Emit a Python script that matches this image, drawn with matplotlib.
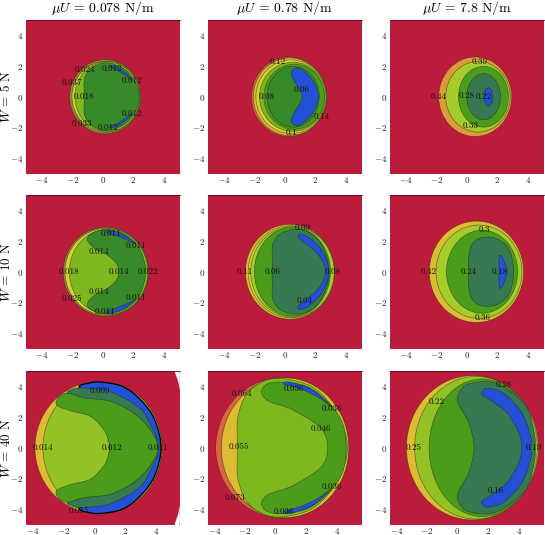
import numpy as np
import matplotlib
matplotlib.use('Agg')
import matplotlib.pyplot as plt
from matplotlib.patches import Ellipse, PathPatch
from matplotlib.path import Path

plt.rcParams['mathtext.fontset'] = 'cm'
plt.rcParams['font.family'] = ['cmr10', 'DejaVu Serif']

RED = '#BC1C3C'
BROWN = '#8F8A35'
CORAL = '#DC6440'
ORANGE = '#DF9A3C'
MUSTARD = '#DDBB33'
YELLOW = '#D9D038'
YGREEN = '#A4CC2A'
MGREEN = '#93C225'
LIME = '#7DB81F'
GREEN = '#4C9C1C'
DGREEN = '#38892A'
TEAL = '#36784F'
BLUE = '#2450D8'
EDGE = (0.1, 0.15, 0.1, 0.55)

row_titles = ['$W$ = 5 N', '$W$ = 10 N', '$W$ = 40 N']
col_titles = [r'$\mu U$ = 0.078 N/m', r'$\mu U$ = 0.78 N/m', r'$\mu U$ = 7.8 N/m']
ticks = [-4, -2, 0, 2, 4]
xlims = [(-5, 5)] * 6 + [(-4.45, 5.5), (-4.4, 5.6), (-4.4, 5.6)]

# regions: ellipse = cx, cy, rx, ry; kidney = upper half of outline (mirrored);
# pair = one crescent above the axis and its mirror image; rimmed = kidney with heavy outline
a_layers = [
    ('ellipse', BROWN, (0.16, 0, 2.32, 2.42)),
    ('ellipse', YELLOW, (0.2, 0, 2.2, 2.3)),
    ('ellipse', LIME, (0.3, 0, 2.12, 2.28)),
    ('kidney', DGREEN, [(-1.2, 0), (-1.2, 1.1), (-0.9, 1.7), (-0.3, 2.1), (0.4, 2.2),
                        (1.4, 1.8), (2.1, 1.0), (2.38, 0)]),
    ('pair', BLUE, [(0.5, 2.02), (1.0, 1.9), (1.6, 1.45), (1.9, 1.05), (1.5, 1.38),
                    (1.0, 1.72), (0.5, 1.92)]),
]
a_labels = [(-1.14, 1.76, '0.024'), (-2, 0.9, '0.037'), (-1.23, 0, '0.018'), (0.6, 1.8, '0.012'),
            (1.87, 1.05, '0.012'), (1.87, -1.1, '0.012'), (0.35, -2.02, '0.012'), (-1.38, -1.75, '0.033')]

b_layers = [
    ('ellipse', CORAL, (0.27, 0, 2.45, 2.59)),
    ('ellipse', MUSTARD, (0.33, 0, 2.38, 2.53)),
    ('ellipse', YELLOW, (0.42, 0, 2.3, 2.4)),
    ('ellipse', LIME, (0.52, 0, 2.17, 2.25)),
    ('ellipse', GREEN, (0.62, 0, 1.98, 2.12)),
    ('ellipse', DGREEN, (0.55, 0, 1.7, 1.98)),
    ('kidney', BLUE, [(1.13, 0), (0.95, 0.5), (0.6, 1.05), (0.42, 1.5), (0.55, 1.8), (0.9, 1.87),
                      (1.4, 1.55), (1.9, 0.95), (2.2, 0)]),
]
b_labels = [(-0.46, 2.3, '0.12'), (-1.15, 0, '0.08'), (1.07, 0.43, '0.06'), (2.39, -1.33, '0.14'),
            (0.46, -2.35, '0.1')]

c_layers = [
    ('ellipse', ORANGE, (0.55, 0, 2.38, 2.59)),
    ('ellipse', YGREEN, (0.73, 0, 2.1, 2.3)),
    ('ellipse', GREEN, (1.09, 0, 1.63, 1.98)),
    ('ellipse', TEAL, (1.1, 0, 1.1, 1.5)),
    ('ellipse', BLUE, (1.41, 0, 0.28, 0.59)),
]
c_labels = [(0.83, 2.3, '0.39'), (-1.85, 0, '0.44'), (0, 0.09, '0.28'), (1.09, 0, '0.22'), (0.28, -1.87, '0.33')]

d_layers = [
    ('ellipse', BROWN, (0.2, 0, 2.78, 2.9)),
    ('ellipse', YELLOW, (0.22, 0, 2.68, 2.82)),
    ('ellipse', LIME, (0.38, 0, 2.56, 2.78)),
    ('kidney', DGREEN, [(1.05, 0), (0.85, 0.6), (0.2, 1.15), (-0.5, 1.5), (-1, 2.05), (-0.8, 2.45),
                        (-0.2, 2.68), (0.5, 2.72), (1.5, 2.4), (2.4, 1.5), (2.8, 0)]),
    ('pair', BLUE, [(0.3, 2.68), (1.0, 2.55), (1.6, 2.25), (2.1, 1.85), (1.5, 2.1), (0.9, 2.35), (0.3, 2.55)]),
]
d_labels = [(0.56, 2.45, '0.011'), (2.15, 1.7, '0.011'), (-0.26, 1.33, '0.014'), (-2.2, 0, '0.018'),
            (1.07, 0, '0.014'), (2.92, 0, '0.022'), (-0.26, -1.31, '0.014'), (2.15, -1.72, '0.011'),
            (-2.02, -1.78, '0.025'), (0.13, -2.64, '0.011')]

e_layers = [
    ('ellipse', MUSTARD, (0.34, 0, 2.9, 3.09)),
    ('ellipse', YELLOW, (0.4, 0, 2.78, 3.0)),
    ('ellipse', YGREEN, (0.5, 0, 2.72, 2.95)),
    ('ellipse', GREEN, (0.5, 0, 2.48, 2.9)),
    ('kidney', TEAL, [(-0.83, 0), (-0.8, 0.8), (-0.8, 1.7), (-0.5, 2.3), (0.1, 2.65), (1, 2.75),
                      (2, 2.3), (2.7, 1.1), (2.9, 0)]),
    ('kidney', BLUE, [(2.65, 0), (2.4, 0.8), (1.9, 1.4), (1.2, 1.95), (0.85, 2.3), (1.0, 2.45),
                      (1.6, 2.2), (2.3, 1.55), (2.75, 0.7), (2.85, 0)]),
]
e_labels = [(1.17, 2.87, '0.09'), (-2.6, 0, '0.11'), (-0.76, 0, '0.06'), (3.09, 0, '0.08'), (1.28, -1.91, '0.04')]

f_layers = [
    ('ellipse', MUSTARD, (0.63, 0, 3.07, 3.3)),
    ('ellipse', YGREEN, (0.8, 0, 2.8, 3.04)),
    ('ellipse', GREEN, (1.0, 0, 2.32, 2.7)),
    ('kidney', TEAL, [(0.13, 0), (0.13, 1.0), (0.35, 1.8), (0.9, 2.2), (1.8, 2.2), (2.6, 1.7),
                      (2.95, 0.9), (3.04, 0)]),
    ('kidney', BLUE, [(2.1, 0), (2.1, 0.7), (2.15, 1.05), (2.3, 1.0), (2.55, 0.4), (2.62, 0)]),
]
f_labels = [(1.15, 2.74, '0.3'), (-2.5, 0, '0.42'), (0.11, 0, '0.24'), (2.13, 0, '0.18'), (1.04, -3, '0.36')]

g_layers = [
    ('pair', 'white', [(5.2, 5.0), (5.5, 5.0), (5.5, 3.8), (5.42, 4.3)]),
    ('ellipse', MUSTARD, (0.24, 0, 4.11, 4.3)),
    ('ellipse', MGREEN, (0.5, 0, 3.85, 4.27)),
    ('rimmed', BLUE, [(1, 0), (0, 3), (-0.7, 3.7), (-1.0, 4.0), (-0.6, 4.17), (0.3, 4.28), (1.8, 4.0),
                      (3, 3.1), (3.9, 1.8), (4.3, 0)]),
    ('kidney', TEAL, [(1, 0), (0, 2.6), (-1.2, 3.2), (-1.75, 3.55), (-1.7, 3.7), (-1.05, 3.9), (0.3, 3.8),
                      (1.24, 3.56), (3, 2.5), (3.96, 0.75), (4.17, 0)]),
    ('kidney', GREEN, [(0.98, 0), (0.85, 0.6), (0.59, 1.19), (-0.28, 2.05), (-1.48, 2.38), (-2.35, 2.7),
                       (-2.5, 3.0), (-2.2, 3.4), (-1.7, 3.55), (-0.7, 3.25), (1, 3.03), (2.54, 2.25),
                       (3.6, 1.17), (4.1, 0)]),
]
g_labels = [(0.37, 3.74, '0.009'), (-3.33, 0, '0.014'), (1.09, 0, '0.012'), (4.11, 0, '0.011'), (-1, -4.13, '0.015')]

h_layers = [
    ('ellipse', CORAL, (0.45, 0, 4.35, 4.58)),
    ('ellipse', MUSTARD, (0.62, 0, 4.15, 4.55)),
    ('kidney', LIME, [(-2.48, 0), (-2.5, 1.0), (-2.45, 2.03), (-1.93, 3.44), (-0.85, 4.3), (0.5, 4.5),
                      (2.5, 3.9), (4, 2.2), (4.7, 0)]),
    ('kidney', GREEN, [(3.39, 0), (2.95, 1.28), (1.1, 2.48), (-0.41, 3.02), (-0.9, 3.57), (-0.63, 4.1),
                       (0.24, 4.28), (2, 4), (3.5, 2.9), (4.37, 1.6), (4.6, 0)]),
    ('pair', BLUE, [(0.5, 4.17), (0.9, 4.28), (2.4, 3.78), (3.6, 2.7), (2.85, 3.24), (1.76, 3.78), (0.9, 4.04)]),
]
h_labels = [(-2.2, 3.5, '0.064'), (1.22, 3.87, '0.036'), (3.67, 2.54, '0.036'), (2.96, 1.24, '0.046'),
            (-2.37, 0.09, '0.055'), (3.67, -2.54, '0.036'), (-2.63, -3.24, '0.073'), (0.52, -4.2, '0.036')]

i_layers = [
    ('ellipse', MUSTARD, (0.97, 0, 4.3, 4.7)),
    ('ellipse', MGREEN, (1.2, 0, 4.0, 4.65)),
    ('ellipse', GREEN, (1.6, 0, 3.45, 4.48)),
    ('kidney', TEAL, [(1.07, 0), (0.74, 1.6), (0.04, 2.9), (0.09, 3.57), (0.74, 4.17), (2.5, 4.2),
                      (4.4, 2.8), (5, 0.95), (5.05, 0)]),
    ('kidney', BLUE, [(4.17, 0), (4, 0.95), (3.24, 2.26), (2.26, 3.02), (1.6, 3.46), (1.6, 3.65), (1.93, 3.87),
                      (3.0, 3.55), (4.2, 2.26), (4.76, 0.74), (4.78, 0)]),
]
i_labels = [(3.02, 4.09, '0.28'), (-1.33, 2.98, '0.22'), (-2.85, 0, '0.25'), (4.93, 0, '0.19'), (2.48, -2.8, '0.16')]

all_layers = [a_layers, b_layers, c_layers, d_layers, e_layers, f_layers, g_layers, h_layers, i_layers]
all_labels = [a_labels, b_labels, c_labels, d_labels, e_labels, f_labels, g_labels, h_labels, i_labels]


def smooth_path(pts):
    # closed Catmull-Rom outline as cubic bezier segments
    pts = np.array(pts, dtype=float)
    n = len(pts)
    verts = [pts[0]]
    codes = [Path.MOVETO]
    for k in range(n):
        p0, p1, p2, p3 = pts[k - 1], pts[k], pts[(k + 1) % n], pts[(k + 2) % n]
        verts += [p1 + (p2 - p0) / 6, p2 - (p3 - p1) / 6, p2]
        codes += [Path.CURVE4] * 3
    return Path(verts, codes)


def add_shape(ax, pts, color, edge=EDGE, lw=0.5):
    if color == 'white':
        edge = 'none'
    ax.add_patch(PathPatch(smooth_path(pts), fc=color, ec=edge, lw=lw))


fig = plt.figure(figsize=(5.45, 5.35), dpi=100)
lefts = [26, 208, 390]
tops = [20, 195, 371]
size = 153.5

for n, (layers, labels) in enumerate(zip(all_layers, all_labels)):
    row, col = n // 3, n % 3
    ax = fig.add_axes([lefts[col] / 545, 1 - (tops[row] + size) / 535, size / 545, size / 535])
    ax.set_facecolor(RED)
    ax.set_xlim(xlims[n])
    ax.set_ylim(-5, 5)
    for kind, color, shape in layers:
        if kind == 'ellipse':
            cx, cy, rx, ry = shape
            ax.add_patch(Ellipse((cx, cy), 2 * rx, 2 * ry, fc=color, ec=EDGE, lw=0.5))
        elif kind == 'kidney':
            mirrored = [(x, -y) for x, y in shape[-2:0:-1]]
            add_shape(ax, list(shape) + mirrored, color)
        elif kind == 'rimmed':
            mirrored = [(x, -y) for x, y in shape[-2:0:-1]]
            add_shape(ax, list(shape) + mirrored, color, edge='black', lw=0.9)
        else:
            add_shape(ax, shape, color)
            add_shape(ax, [(x, -y) for x, y in shape], color)
    for x, y, text in labels:
        ax.text(x, y, text, fontsize=6.5, ha='center', va='center', color='#111111')
    ax.set_xticks(ticks)
    ax.set_yticks(ticks)
    ax.set_xticklabels(['$%d$' % t for t in ticks], fontsize=6.5)
    ax.set_yticklabels(['$%d$' % t for t in ticks], fontsize=6.5)
    ax.tick_params(axis='x', length=0, pad=1, colors='#222222')
    ax.tick_params(axis='y', length=0, pad=2, colors='#222222')
    for side in ['left', 'right', 'bottom']:
        ax.spines[side].set_visible(False)
    ax.spines['top'].set_linewidth(0.6)
    ax.spines['top'].set_color('#5a1020')
    if row == 0:
        ax.set_title(col_titles[col], fontsize=9.9, pad=6)
    if col == 0:
        ax.set_ylabel(row_titles[row], fontsize=9.4)
        ax.yaxis.set_label_coords(-0.084, 0.5)

fig.savefig('out.png', dpi=100)
